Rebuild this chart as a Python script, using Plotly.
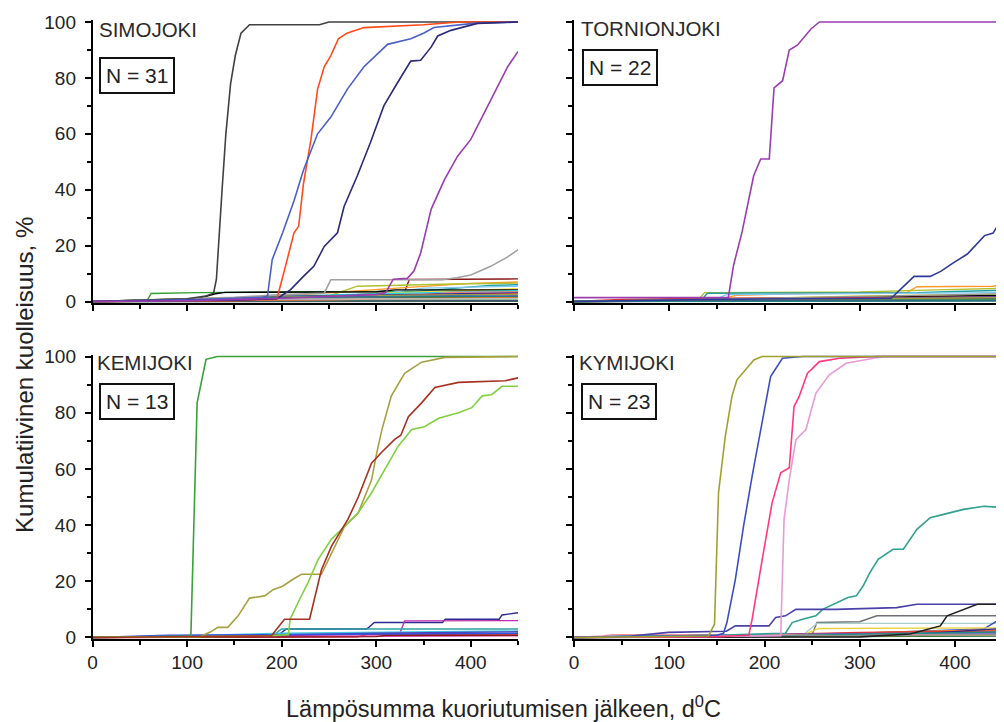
import plotly.graph_objects as go

# ---------------- axes / ticks ----------------
X_TICKS = [0, 100, 200, 300, 400]
X_MINOR = [50, 150, 250, 350, 450]
Y_TICKS = [0, 20, 40, 60, 80, 100]
Y_MINOR = [10, 30, 50, 70, 90]
X_RANGE = [0, 450]
Y_RANGE = [-0.5, 100.6]

PANEL_NAMES = ["SIMOJOKI", "TORNIONJOKI", "KEMIJOKI", "KYMIJOKI"]
PANEL_N = [31, 22, 13, 23]
X_TITLE = "Lämpösumma kuoriutumisen jälkeen, d<sup>0</sup>C"
Y_TITLE = "Kumulatiivinen kuolleisuus, %"

# ---------------- SIMOJOKI ----------------
simo_black_x = [0, 60, 100, 120, 128, 131, 134, 137, 141, 146, 151, 157, 166, 240, 250, 450]
simo_black_y = [0, 0.5, 1, 2, 3, 8, 25, 40, 60, 78, 88, 96, 99, 99, 100, 100]
simo_red_x = [0, 150, 190, 195, 204, 213, 218, 223, 231, 238, 245, 252, 260, 269, 287, 350, 388, 450]
simo_red_y = [0, 0.3, 0.8, 1, 12.6, 24.5, 27, 42, 58, 76, 84, 88, 94, 96, 98, 99, 100, 100]
simo_blue_x = [0, 120, 180, 185, 190, 201, 213, 223, 238, 252, 269.5, 287, 312, 336.5, 350, 361, 403, 450]
simo_blue_y = [0, 0.8, 1.5, 2, 15, 24.6, 36, 47, 60, 66, 76, 84, 92, 94, 96, 98, 99.5, 100]
simo_navy_x = [0, 150, 195, 209.5, 223, 234, 245, 259, 266, 280, 294, 308, 322, 336.5, 347, 358, 365, 379, 407, 450]
simo_navy_y = [0, 0.5, 1, 4.3, 9, 12.6, 19.7, 24.6, 34, 45, 57, 70, 78, 86, 86.3, 91, 95, 97, 99.5, 100]
simo_purple_x = [0, 100, 200, 300, 310, 318, 333, 340, 347, 358, 372, 386, 400, 414, 428, 439, 450]
simo_purple_y = [0, 0.3, 1.2, 2.5, 3.2, 8, 8.3, 11, 17.4, 33, 43.5, 52, 58, 67.3, 77, 84, 89.5]
simo_silver_x = [0, 150, 200, 245, 252, 370, 385, 400, 421, 439, 450]
simo_silver_y = [0, 1.5, 2.5, 3, 7.8, 7.8, 8.5, 9.5, 12.6, 16, 18.6]
simo_low_x = [
    [0, 150, 230, 300, 330, 335, 450],
    [0, 58, 62, 110, 200, 300, 450],
    [0, 120, 200, 260, 330, 400, 450],
    [0, 140, 250, 280, 380, 450],
    [0, 100, 240, 320, 420, 450],
    [0, 150, 300, 350, 450],
    [0, 130, 290, 310, 450],
    [0, 110, 130, 140, 300, 320, 450],
    [0, 80, 150, 260, 450],
    [0, 160, 250, 350, 380, 450],
    [0, 100, 200, 350, 450],
    [0, 170, 260, 360, 450],
    [0, 90, 180, 300, 450],
    [0, 140, 240, 330, 450],
    [0, 190, 300, 450],
    [0, 200, 350, 450],
    [0, 100, 250, 450],
    [0, 150, 350, 450],
    [0, 200, 450],
    [0, 300, 450],
    [0, 120, 300, 450],
    [0, 80, 200, 450],
    [0, 250, 300, 450],
    [0, 175, 200, 450],
    [0, 450],
]
simo_low_y = [
    [0, 0.5, 1.5, 3, 3.5, 7.9, 8.1],
    [0, 0.5, 2.9, 3.2, 3.4, 3.6, 3.8],
    [0, 1, 2, 3.5, 5, 6.5, 7.0],
    [0, 0.8, 2, 5.5, 6.3, 6.6],
    [0, 0.5, 1.5, 3, 5.8, 6.0],
    [0, 1, 2.5, 4.8, 5.5],
    [0, 0.8, 1.5, 3, 4.6],
    [0, 1, 2.8, 3.3, 3.5, 4.2, 4.2],
    [0, 0.3, 1.2, 2.5, 3.9],
    [0, 0.5, 1.5, 2.5, 3.3, 3.5],
    [0, 0.6, 1.8, 2.5, 3.1],
    [0, 0.5, 1.8, 2.2, 2.8],
    [0, 0.5, 1.2, 2, 2.4],
    [0, 0.3, 0.9, 1.5, 2.0],
    [0, 0.6, 1.2, 1.7],
    [0, 0.4, 1.0, 1.4],
    [0, 0.4, 0.8, 1.1],
    [0, 0.3, 0.6, 0.8],
    [0, 0.2, 0.5],
    [0, 0.2, 0.3],
    [0, 1.2, 2.2, 2.6],
    [0, 0.5, 1.5, 1.9],
    [0, 0.5, 1.0, 1.3],
    [0, 0.5, 0.9, 1.0],
    [0, 0.1],
]

# ---------------- TORNIONJOKI ----------------
torn_purple_x = [0, 162, 167.5, 176.5, 188.6, 196, 205, 210, 219, 226, 234.5, 249, 257.7, 450]
torn_purple_y = [1.4, 1.5, 13, 25, 45, 51, 51, 76.4, 79, 90, 91.7, 97.6, 100, 100]
torn_navy_x = [0, 150, 333, 345, 357, 374, 385, 399, 413, 431, 440, 449]
torn_navy_y = [0, 0.8, 1.2, 5, 9, 9, 10.8, 14, 17, 23.6, 24.5, 29.6]
torn_low_x = [
    [0, 150, 170, 250, 350, 360, 440, 450],
    [0, 130, 137, 300, 380, 450],
    [0, 135, 140, 360, 400, 450],
    [0, 150, 160, 450],
    [0, 50, 200, 300, 450],
    [0, 100, 250, 380, 450],
    [0, 150, 240, 300, 450],
    [0, 250, 270, 450],
    [0, 200, 450],
    [0, 50, 150, 450],
    [0, 300, 450],
    [0, 300, 450],
    [0, 200, 350, 450],
    [0, 100, 450],
    [0, 180, 450],
    [0, 140, 450],
    [0, 250, 450],
    [0, 20, 450],
    [0, 120, 450],
    [0, 450],
]
torn_low_y = [
    [0, 0.5, 2.2, 3, 3.3, 5.3, 5.5, 6.1],
    [0, 0.5, 3.2, 3.4, 4.2, 4.7],
    [0, 1, 3, 3.2, 3.6, 4.0],
    [0, 1, 2.5, 3.2],
    [0, 0.5, 1.2, 2.0, 2.6],
    [0, 0.8, 1.2, 1.8, 2.2],
    [0, 0.3, 0.8, 1.0, 1.3],
    [0, 0.3, 0.9, 1.1],
    [0, 0.5, 1.0],
    [0, 0.8, 1.2, 1.6],
    [0, 0.4, 0.8],
    [0, 0.2, 0.4],
    [0, 0.5, 1.2, 1.5],
    [0, 0.2, 0.6],
    [0, 0.6, 1.8],
    [0, 0.8, 2.8],
    [0, 0.4, 0.7],
    [0, 0.3, 0.5],
    [0, 0.6, 1.4],
    [0, 0.2],
]

# ---------------- KEMIJOKI ----------------
kemi_green_x = [0, 104, 110.6, 120, 132, 450]
kemi_green_y = [0, 0.5, 83.5, 99, 100, 100]
kemi_olive_x = [0, 114, 125, 132.5, 143, 154, 166, 182, 191, 201.5, 212, 221, 242, 252.7, 266.5, 281, 295, 300.5, 306, 316, 330, 348, 372.5, 450]
kemi_olive_y = [0, 0.3, 2, 3.6, 3.6, 7.7, 14, 14.8, 17, 18.3, 20.7, 22.5, 22.5, 30, 39.5, 44.4, 56, 65.6, 74, 86, 94, 98, 99.7, 100]
kemi_red_x = [0, 189, 203, 229.5, 242, 252.7, 270, 281, 295, 306, 319.5, 326, 334, 348, 362, 387, 436.6, 450]
kemi_red_y = [0, 0.5, 6.5, 6.5, 24, 32.5, 42, 50, 62, 66, 70.5, 72, 78.6, 83.5, 89, 90.8, 91.4, 92.4]
kemi_lgreen_x = [0, 180, 207, 209, 219, 228, 238.6, 252.7, 266.5, 281, 295, 309, 323, 337.5, 351, 366, 387, 401, 412, 422, 433, 450]
kemi_lgreen_y = [0, 0.5, 1, 6.5, 13.6, 19.6, 27.8, 35, 39.5, 44.4, 51.5, 60, 68, 74, 75, 78, 80, 81.8, 86, 86.4, 89.4, 89.4]
kemi_low_x = [
    [0, 195, 205, 290, 298, 370, 373, 430, 433, 450],
    [0, 300, 325, 330, 450],
    [0, 190, 200, 450],
    [0, 60, 120, 200, 450],
    [0, 180, 210, 300, 450],
    [0, 280, 290, 450],
    [0, 200, 450],
    [0, 300, 310, 450],
    [0, 40, 80, 450],
]
kemi_low_y = [
    [0, 0.5, 3, 3, 5.3, 5.3, 6.5, 6.5, 8, 8.8],
    [0, 1, 1.5, 5.9, 6.0],
    [0, 0.5, 3.0, 3.0],
    [0, 0.3, 0.8, 1.5, 2.3],
    [0, 0.5, 1, 1.5, 2],
    [0, 0.2, 1, 1.2],
    [0, 0.2, 0.6],
    [0, 0.3, 0.8, 0.8],
    [0, 0.5, 0.8, 1.5],
]

# ---------------- KYMIJOKI ----------------
kymi_olive_x = [0, 100, 141, 147.5, 151.7, 158.8, 165.8, 171, 180, 188.8, 197.6, 450]
kymi_olive_y = [0, 0.3, 0.5, 4.7, 51.5, 71.6, 85.8, 91.7, 95.3, 98.8, 100, 100]
kymi_blue_x = [0, 150, 157, 160.5, 169.4, 178, 187, 197.6, 206.4, 218.8, 240, 450]
kymi_blue_y = [0, 0.8, 1.5, 5.3, 20.7, 39.6, 57.4, 77.5, 92.9, 99.4, 100, 100]
kymi_pink_x = [0, 150, 183.5, 187, 197.6, 208, 217, 226, 231, 236.4, 245, 257.6, 278.8, 317.6, 450]
kymi_pink_y = [0, 0.3, 0.8, 6.5, 27.8, 48, 58.6, 60.4, 82.2, 85.8, 94, 98.2, 99.4, 100, 100]
kymi_orchid_x = [0, 100, 217, 220.5, 226, 233, 243.5, 254, 268, 285.8, 303.5, 324.6, 450]
kymi_orchid_y = [0, 0.3, 0.6, 42, 56.2, 70.4, 74, 87, 93.5, 97.6, 98.8, 100, 100]
kymi_teal_x = [0, 150, 222, 229, 240, 254, 261, 278.8, 287.6, 296.4, 303.5, 310.5, 319.3, 335, 345.8, 360, 374, 388, 409, 430.5, 450]
kymi_teal_y = [0, 0.8, 1.5, 5.3, 6.5, 7.7, 10, 13, 14.2, 14.8, 18.3, 23, 27.8, 31.4, 31.4, 38.5, 42.6, 43.8, 45.6, 46.7, 46.2]
kymi_slate_x = [0, 60, 99, 160, 169.4, 204.7, 211.7, 222, 233, 275, 338.7, 360, 450]
kymi_slate_y = [0, 0.5, 1.8, 2.2, 4.1, 4.1, 7.1, 7.7, 10, 10, 10.6, 11.8, 11.8]
kymi_black_x = [0, 300, 352.8, 384.6, 391.7, 409, 423.4, 450]
kymi_black_y = [0, 0.2, 1.2, 4.1, 7.7, 10, 11.8, 11.8]
kymi_low_x = [
    [0, 200, 250, 255, 300, 318, 450],
    [0, 240, 255, 450],
    [0, 300, 430, 445, 450],
    [0, 250, 350, 450],
    [0, 200, 300, 450],
    [0, 240, 257, 450],
    [0, 280, 450],
    [0, 100, 250, 450],
    [0, 150, 300, 450],
    [0, 100, 350, 450],
    [0, 50, 200, 450],
    [0, 250, 450],
    [0, 200, 450],
    [0, 30, 40, 450],
    [0, 150, 450],
    [0, 300, 450],
]
kymi_low_y = [
    [0, 0.5, 1, 5.3, 5.6, 7.7, 7.7],
    [0, 0.8, 5, 5.0],
    [0, 1.5, 3, 6, 7.5],
    [0, 1, 2, 2.8],
    [0, 1, 1.8, 2.3],
    [0, 0.8, 3.2, 3.4],
    [0, 0.3, 0.5],
    [0, 0.5, 1.2, 1.8],
    [0, 0.5, 1.0, 1.5],
    [0, 0.3, 1, 3.2],
    [0, 0.5, 1, 1.2],
    [0, 0.4, 1],
    [0, 0.5, 0.8],
    [0, 0.5, 1, 1.0],
    [0, 0.3, 2],
    [0, 0.5, 1.0],
]

# ---------------- styles ----------------
LOW_COLORS = ['#8b1a1a', '#2ca02c', '#ff9a2a', '#b0c030', '#20a0a0', '#80c8f0', '#f0e040',
              '#000000', '#30d0e0', '#f08080', '#2a2a90', '#e03030', '#3050e0', '#d030c0',
              '#106010', '#8b5a2b', '#7040a0', '#909090', '#40e040', '#404080', '#a0a040',
              '#208080', '#ff8040', '#c0c0c0', '#406060']
KYMI_LOW_COLORS = ['#707070', '#a8d0c8', '#3050d0', '#ff9020', '#e03030', '#e8d040', '#107040',
                   '#8040b0', '#d030c0', '#2a2a90', '#30c0d0', '#8b5a2b', '#a0a040', '#f090a0',
                   '#209080', '#909090']
KEMI_LOW_COLORS = ['#2a2a90', '#c030b0', '#30a0a0', '#40c8e0', '#5040b0', '#e03040',
                   '#d040a0', '#8b1a1a', '#3050e0']

fig = go.Figure()


def add_low(xs, ys, colors, xa, ya):
    for i, (lx, ly) in enumerate(zip(xs, ys)):
        fig.add_trace(go.Scatter(x=lx, y=ly, mode='lines', xaxis=xa, yaxis=ya,
                                 line=dict(color=colors[i % len(colors)], width=1.4),
                                 showlegend=False, hoverinfo='skip'))


def add_main(x, y, color, xa, ya):
    fig.add_trace(go.Scatter(x=x, y=y, mode='lines', xaxis=xa, yaxis=ya,
                             line=dict(color=color, width=1.6), showlegend=False))


# Simojoki
add_low(simo_low_x, simo_low_y, LOW_COLORS, 'x', 'y')
add_main(simo_silver_x, simo_silver_y, '#a0a0a0', 'x', 'y')
add_main(simo_black_x, simo_black_y, '#404040', 'x', 'y')
add_main(simo_red_x, simo_red_y, '#ff4a1a', 'x', 'y')
add_main(simo_blue_x, simo_blue_y, '#4a60c8', 'x', 'y')
add_main(simo_navy_x, simo_navy_y, '#2a2a78', 'x', 'y')
add_main(simo_purple_x, simo_purple_y, '#9b3cb0', 'x', 'y')

# Tornionjoki
add_low(torn_low_x, torn_low_y, LOW_COLORS[2:] + LOW_COLORS[:2], 'x2', 'y2')
add_main(torn_navy_x, torn_navy_y, '#2e3a9a', 'x2', 'y2')
add_main(torn_purple_x, torn_purple_y, '#9b3cb0', 'x2', 'y2')

# Kemijoki
add_low(kemi_low_x, kemi_low_y, KEMI_LOW_COLORS, 'x3', 'y3')
add_main(kemi_green_x, kemi_green_y, '#3aa03a', 'x3', 'y3')
add_main(kemi_olive_x, kemi_olive_y, '#a8a040', 'x3', 'y3')
add_main(kemi_lgreen_x, kemi_lgreen_y, '#80d040', 'x3', 'y3')
add_main(kemi_red_x, kemi_red_y, '#a83020', 'x3', 'y3')

# Kymijoki
add_low(kymi_low_x, kymi_low_y, KYMI_LOW_COLORS, 'x4', 'y4')
add_main(kymi_teal_x, kymi_teal_y, '#30a090', 'x4', 'y4')
add_main(kymi_slate_x, kymi_slate_y, '#4a40a8', 'x4', 'y4')
add_main(kymi_black_x, kymi_black_y, '#202020', 'x4', 'y4')
add_main(kymi_orchid_x, kymi_orchid_y, '#e89ad8', 'x4', 'y4')
add_main(kymi_pink_x, kymi_pink_y, '#ff3a7a', 'x4', 'y4')
add_main(kymi_blue_x, kymi_blue_y, '#3a50c0', 'x4', 'y4')
add_main(kymi_olive_x, kymi_olive_y, '#a0a030', 'x4', 'y4')

FONT = "Liberation Sans, Arial, sans-serif"
TICKFONT = dict(family=FONT, size=19, color='#222222')


def xax(domain, anchor, labels):
    return dict(domain=domain, anchor=anchor, range=X_RANGE, tickvals=X_TICKS,
                ticks='outside', ticklen=6, tickwidth=1.5, tickcolor='black',
                showline=True, linecolor='black', linewidth=1.5, showgrid=False,
                zeroline=False, showticklabels=labels, tickfont=TICKFONT,
                minor=dict(tickvals=X_MINOR, ticks='outside', ticklen=4,
                           tickwidth=1.5, tickcolor='black'))


def yax(domain, anchor, labels):
    return dict(domain=domain, anchor=anchor, range=Y_RANGE, tickvals=Y_TICKS,
                ticks='outside', ticklen=6, tickwidth=1.5, tickcolor='black',
                showline=True, linecolor='black', linewidth=1.5, showgrid=False,
                zeroline=False, showticklabels=labels, tickfont=TICKFONT,
                ticklabelstandoff=5,
                minor=dict(tickvals=Y_MINOR, ticks='outside', ticklen=4,
                           tickwidth=1.5, tickcolor='black'))


XL = [0.0796, 0.5056]
XR = [0.5616, 0.9906]
YT = [0.5938, 0.9953]
YB = [0.1167, 0.5201]

fig.update_layout(
    width=1004, height=722,
    margin=dict(l=0, r=0, t=0, b=0),
    paper_bgcolor='white', plot_bgcolor='white',
    showlegend=False,
    xaxis=xax(XL, 'y', False), yaxis=yax(YT, 'x', True),
    xaxis2=xax(XR, 'y2', False), yaxis2=yax(YT, 'x2', False),
    xaxis3=xax(XL, 'y3', True), yaxis3=yax(YB, 'x3', True),
    xaxis4=xax(XR, 'y4', True), yaxis4=yax(YB, 'x4', False),
    font=dict(family=FONT, color='#222222'),
)

label_pos = [(0.0836, 0.9816), (0.5666, 0.983), (0.0816, 0.5092), (0.5646, 0.5092)]
box_pos = [(0.0856, 0.9163), (0.5696, 0.9277), (0.0856, 0.4539), (0.5686, 0.4539)]
for name, n, (lx, ly), (bx, by) in zip(PANEL_NAMES, PANEL_N, label_pos, box_pos):
    fig.add_annotation(x=lx, y=ly, xref='paper', yref='paper', text=name, showarrow=False,
                       xanchor='left', yanchor='middle',
                       font=dict(family=FONT, size=20.5, color='#2a2a2a'))
    fig.add_annotation(x=bx, y=by, xref='paper', yref='paper', text=f"N = {n}",
                       showarrow=False, xanchor='left', yanchor='middle',
                       bordercolor='#111111', borderwidth=2, borderpad=5, bgcolor='white',
                       font=dict(family=FONT, size=21, color='#222222'))

fig.add_annotation(x=0.4906, y=0.0199, xref='paper', yref='paper', text=X_TITLE,
                   showarrow=False, xanchor='center', yanchor='middle',
                   font=dict(family=FONT, size=23.5, color='#222222'))
fig.add_annotation(x=0.0116, y=0.491, xref='paper', yref='paper', text=Y_TITLE,
                   showarrow=False, textangle=-90, xanchor='center', yanchor='middle',
                   font=dict(family=FONT, size=24, color='#222222'))

fig.write_html("out.html")
